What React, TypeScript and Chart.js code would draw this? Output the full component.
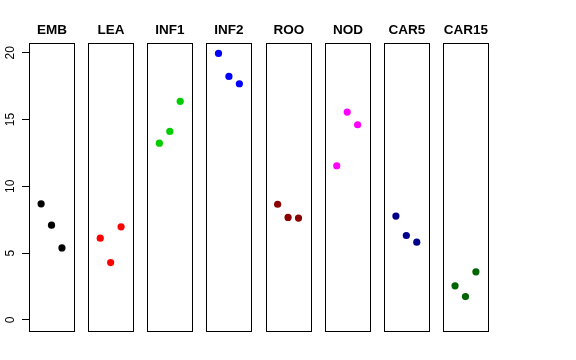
import React, { useEffect, useRef } from "react";
import { Chart, registerables } from "chart.js";

Chart.register(...registerables);

const PANELS = ["EMB", "LEA", "INF1", "INF2", "ROO", "NOD", "CAR5", "CAR15"];
const COLORS = ["#000000", "#FF0000", "#00CD00", "#0000FF", "#8B0000", "#FF00FF", "#00008B", "#006400"];
const EMB = [8.69, 7.09, 5.39];
const LEA = [6.12, 4.29, 6.97];
const INF1 = [13.23, 14.11, 16.36];
const INF2 = [19.95, 18.23, 17.68];
const ROO = [8.66, 7.67, 7.62];
const NOD = [11.54, 15.56, 14.61];
const CAR5 = [7.77, 6.32, 5.82];
const CAR15 = [2.55, 1.75, 3.6];
const SERIES = [EMB, LEA, INF1, INF2, ROO, NOD, CAR5, CAR15];
const POSITIONS = [1, 2, 3];
const Y_TICKS = [0, 5, 10, 15, 20];

// panel layout in x-units (R style: xlim 0..4 extended 4%)
const PANEL_W = 4.32;
const PANEL_P = 5.67;
const X_OFF = 0.16;
const X_MAX = (PANELS.length - 1) * PANEL_P + PANEL_W;

const panelPlugin = {
  id: "panels",
  beforeDatasetsDraw(chart: any) {
    const { ctx, chartArea, scales } = chart;
    const xs = scales.x;
    const ys = scales.y;
    ctx.save();
    ctx.strokeStyle = "#000";
    ctx.lineWidth = 1;
    PANELS.forEach((name, i) => {
      const x0 = Math.round(xs.getPixelForValue(i * PANEL_P)) + 0.5;
      const x1 = Math.round(xs.getPixelForValue(i * PANEL_P + PANEL_W)) + 0.5;
      const t = Math.round(chartArea.top) + 0.5;
      const b = Math.round(chartArea.bottom) + 0.5;
      ctx.strokeRect(x0, t, x1 - x0, b - t);
      ctx.fillStyle = "#000";
      ctx.font = "bold 13.5px 'Liberation Sans', Arial, sans-serif";
      ctx.textAlign = "center";
      ctx.textBaseline = "alphabetic";
      ctx.fillText(name, (x0 + x1) / 2, 34);
    });
    // y axis line from 0 to 20
    const ax = Math.round(chartArea.left) + 0.5;
    ctx.beginPath();
    ctx.moveTo(ax, ys.getPixelForValue(Y_TICKS[0]));
    ctx.lineTo(ax, ys.getPixelForValue(Y_TICKS[Y_TICKS.length - 1]));
    ctx.stroke();
    ctx.restore();
  },
};

export default function App() {
  const ref = useRef<HTMLCanvasElement | null>(null);
  useEffect(() => {
    if (!ref.current) return;
    const datasets = SERIES.map((vals, i) => ({
      label: PANELS[i],
      data: vals.map((v, j) => ({ x: i * PANEL_P + X_OFF + POSITIONS[j], y: v })),
      backgroundColor: COLORS[i],
      borderColor: COLORS[i],
      borderWidth: 0,
      pointRadius: 3.6,
    }));
    const chart = new Chart(ref.current, {
      type: "scatter",
      data: { datasets },
      plugins: [panelPlugin],
      options: {
        animation: false,
        responsive: false,
        maintainAspectRatio: false,
        layout: { padding: { top: 43, bottom: 29, right: 88, left: 0 } },
        plugins: { legend: { display: false }, tooltip: { enabled: false }, title: { display: false } },
        scales: {
          x: { type: "linear", min: 0, max: X_MAX, display: false },
          y: {
            type: "linear",
            min: -0.83,
            max: 20.73,
            afterBuildTicks: (scale: any) => {
              scale.ticks = Y_TICKS.map((v) => ({ value: v }));
            },
            afterFit: (scale: any) => {
              scale.width = 29;
            },
            border: { display: false },
            grid: { drawOnChartArea: false, tickLength: 7, color: "#000", lineWidth: 1 },
            ticks: {
              minRotation: 90,
              maxRotation: 90,
              crossAlign: "center",
              padding: 5,
              color: "#000",
              font: { size: 12, family: "'Liberation Sans', Arial, sans-serif" },
            },
          },
        },
      },
    });
    return () => chart.destroy();
  }, []);
  return (
    <div style={{ position: "fixed", left: 0, top: 0, width: 576, height: 360, background: "#fff" }}>
      <canvas ref={ref} width={576} height={360} style={{ width: 576, height: 360 }} />
    </div>
  );
}
